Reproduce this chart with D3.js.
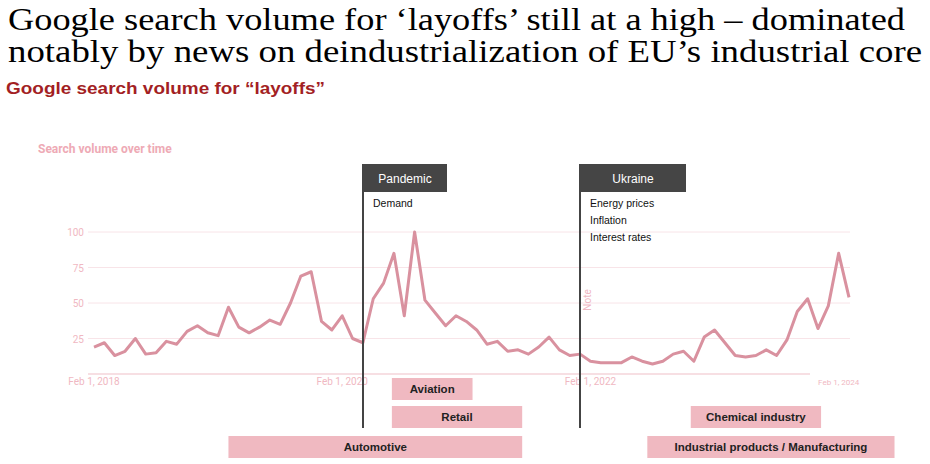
<!DOCTYPE html><html><head><meta charset="utf-8"><script src="https://cdn.jsdelivr.net/npm/d3@7"></script>
<style>body{margin:0;background:#fff}</style></head><body><svg id="c" width="930" height="464"></svg><script>
const values=[19,22,13,16,25,14,15,23,21,30,34,29,27,47,33,29,33,38,35,50,69,72,37,31,41,25,22,
53,64,85,41,100,52,43,34,41,37,31,21,23,16,17,14,19,26,17,13,14,
9,8,8,8,12,9,7,9,14,16,9,26,31,22,13,12,13,17,13,24,44,53,32,48,85,54];
const yTicks=[25,50,75,100];
const xTickLabels=[{i:0,t:"Feb 1, 2018"},{i:24,t:"Feb 1, 2020"},{i:48,t:"Feb 1, 2022"},{i:72,t:"Feb 1, 2024"}];
const events=[{i:26,name:"Pandemic",notes:["Demand"]},{i:47,name:"Ukraine",notes:["Energy prices","Inflation","Interest rates"]}];
const sectors=[{name:"Aviation",from:28.8,to:36.6,row:0},{name:"Retail",from:28.8,to:41.4,row:1},{name:"Automotive",from:13,to:41.4,row:2},
{name:"Chemical industry",from:57.7,to:70.3,row:1},{name:"Industrial products / Manufacturing",from:53.5,to:77.4,row:2}];
const svg=d3.select("#c");
const x=d3.scaleLinear().domain([0,73]).range([94,849]);
const y=d3.scaleLinear().domain([0,100]).range([374,232]);
svg.append("text").attr("x",8).attr("y",30).attr("font-family","Liberation Serif").attr("font-size",31).attr("textLength",897).attr("lengthAdjust","spacingAndGlyphs").text("Google search volume for ‘layoffs’ still at a high – dominated");
svg.append("text").attr("x",8).attr("y",62).attr("font-family","Liberation Serif").attr("font-size",31).attr("textLength",914).attr("lengthAdjust","spacingAndGlyphs").text("notably by news on deindustrialization of EU’s industrial core");
svg.append("text").attr("x",6).attr("y",94).attr("font-family","Liberation Sans").attr("font-weight","bold").attr("font-size",17).attr("textLength",319).attr("lengthAdjust","spacingAndGlyphs").attr("fill","#a31f24").text("Google search volume for “layoffs”");
svg.append("text").attr("x",38).attr("y",153).attr("font-family","Roboto").attr("font-weight","bold").attr("font-size",12).attr("fill","#eeaab5").text("Search volume over time");
const g=svg.append("g");
g.selectAll(".grid").data(yTicks).join("line").attr("x1",88).attr("x2",850).attr("y1",d=>y(d)).attr("y2",d=>y(d)).attr("stroke","#f8e4e8");
g.selectAll(".yl").data(yTicks).join("text").attr("x",84).attr("y",d=>y(d)+4).attr("text-anchor","end").attr("font-family","Roboto").attr("font-size",10).attr("fill","#f0b8c2").text(d=>d);
g.append("line").attr("x1",88).attr("x2",810).attr("y1",y(0)).attr("y2",y(0)).attr("stroke","#f0c0c8").attr("stroke-width",1.2);
g.selectAll(".xl").data(xTickLabels).join("text").attr("x",d=>x(d.i)).attr("y",385).attr("text-anchor","middle").attr("font-family","Roboto")
 .attr("font-size",d=>d.i===72?8:10).attr("fill","#f0b8c2").text(d=>d.t);
g.append("path").datum(values).attr("fill","none").attr("stroke","#d9919f").attr("stroke-width",3).attr("stroke-linejoin","round")
 .attr("d",d3.line().x((d,i)=>x(i)).y(d=>y(d)));
g.append("text").attr("transform",`translate(${x(47)+11},300) rotate(-90)`).attr("text-anchor","middle").attr("font-family","Roboto").attr("font-size",10).attr("fill","#f0b8c2").text("Note");
events.forEach(e=>{const ex=Math.round(x(e.i));
 svg.append("line").attr("x1",ex).attr("x2",ex).attr("y1",164).attr("y2",428).attr("stroke","#444").attr("stroke-width",2);
 svg.append("rect").attr("x",ex).attr("y",164).attr("width",e.i===26?84:106).attr("height",28).attr("fill","#454545");
 svg.append("text").attr("x",ex+(e.i===26?42:53)).attr("y",183).attr("text-anchor","middle").attr("font-family","Liberation Sans").attr("font-size",12).attr("fill","#fff").text(e.name);
 e.notes.forEach((n,k)=>svg.append("text").attr("x",ex+10).attr("y",207+k*17).attr("font-family","Liberation Sans").attr("font-size",10.5).attr("fill","#111").text(n));
});
const rowY=[378,406,436];
sectors.forEach(s=>{const x0=x(s.from),x1=x(s.to);
 svg.append("rect").attr("x",x0).attr("y",rowY[s.row]).attr("width",x1-x0).attr("height",22).attr("fill","#f0b9c1");
 svg.append("text").attr("x",(x0+x1)/2).attr("y",rowY[s.row]+15).attr("text-anchor","middle").attr("font-family","Liberation Sans").attr("font-weight","bold").attr("font-size",11.5).attr("fill","#222").text(s.name);
});
</script></body></html>
